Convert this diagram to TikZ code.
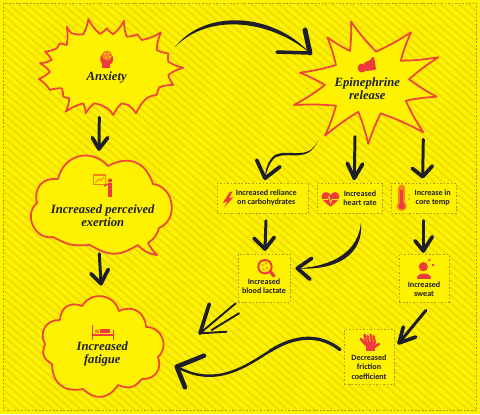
\documentclass[tikz,border=0pt]{standalone}
\usepackage{fontspec}
\setsansfont{Carlito}
\setmainfont{Liberation Serif}
\definecolor{bgyellow}{HTML}{FFF200}
\definecolor{stripe}{HTML}{EEDF00}
\definecolor{outline}{HTML}{F0453A}
\definecolor{iconred}{HTML}{EE3B3B}
\definecolor{iconorange}{HTML}{F58220}
\definecolor{inkdark}{HTML}{1E1E28}
\definecolor{dotline}{HTML}{A89E10}
\tikzset{
  bubble/.style={draw=outline, line width=1pt, fill=bgyellow, line join=round},
  spk/.style={bend right=#1},
  spk/.default=10,
  lobe/.style={bend left=#1, looseness=1.25},
  lobe/.default=60,
  infobox/.style={draw=dotline, fill=bgyellow, line width=0.5pt, dash pattern=on 0.9pt off 1.1pt, inner sep=0pt},
  bigtext/.style={font=\fontsize{7.2}{7.5}\selectfont\bfseries\itshape, text=inkdark, align=center, inner sep=0pt},
  boxtext/.style={font=\sffamily\fontsize{4.6}{5.3}\selectfont\bfseries, text=inkdark, align=center, inner sep=0pt},
  shaft/.style={draw=inkdark, line width=#1, line cap=round, line join=round},
  shaft/.default=1.7pt,
  barb/.style={draw=inkdark, line width=2.1pt, line cap=round, line join=round}
}
\begin{document}
\begin{tikzpicture}[x=0.02cm, y=-0.02cm]
  \useasboundingbox (0,0) rectangle (480,414);
  \fill[bgyellow] (0,0) rectangle (480,414);

  % Background stripes
  \begin{scope}
    \clip (3,3) rectangle (476.5,410);
    \foreach \s in {-500,-491,...,480} {
      \draw[stripe, line width=1.1pt] (\s,0) -- (\s+487,414);
    }
  \end{scope}
  \draw[dotline, line width=0.4pt, dash pattern=on 1pt off 1pt] (3,3) rectangle (476.5,410);

  % Anxiety star
  \draw[bubble] (88.3,19) \foreach \x/\y in {100/34,106.7/28.3,113.3/34.3,124/20.7,126.7/36.7,137.3/34.3,141.7/40,161/32.3,156.7/50,168.3/53.3,168.3/61.7,183.3/67.7,168.3/75,173.3/85,159.3/87.3,156.7/95,146.7/98,136/113.3,128.3/105,121.7/103.3,113.3/115,107.3/108.3,94.3/103.3,85.7/113.3,83.3/103.3,65.7/111.7,69.3/98.3,63.3/96.7,61.7/88.3,50/90,39/79,50/71.7,40/63.3,51.7/60,45/51.7,56.7/48.3,60/43.3,66.7/45,66.7/26.7,71.7/33.3,83.3/34.3,88.3/19} { to[spk] (\x,\y) } -- cycle;
  \node[bigtext] (anxiety) at (106.7,77.7) {Anxiety};

  % Epinephrine star
  \draw[bubble] (351,21.7) \foreach \x/\y in {376/51.7,411/32.3,400.7/60.7,438.3/57.3,409/79.3,436.7/96.7,405.7/100.7,423.3/132.3,380.7/113.3,368.3/144,358.3/111.7,325/135.7,336/105.7,294/105,325/85,300/72.7,336/65,327.3/37.3,350/51,351/21.7} { to[spk=4] (\x,\y) } -- cycle;
  \node[bigtext] (epinephrine) at (367.3,89) {Epinephrine\\release};

  % Exertion cloud
  \draw[bubble] (58,179) to[lobe=62] (108,166) to[lobe=50] (153,184) to[lobe=75] (159,228)
    to[bend left=20] (148,243) to[bend right=8] (157,255) to[bend left=20] (138,245)
    to[lobe=30] (90,245) to[lobe=15] (53,237) to[lobe=75] (37,203) to[lobe=55] (58,179) -- cycle;
  \node[bigtext] (exertion) at (102.7,215.3) {Increased perceived\\exertion};

  % Fatigue cloud
  \draw[bubble] (82,306) to[lobe=65] (119,311) to[lobe=55] (146,327) to[lobe=70] (158,357)
    to[lobe=55] (142,379) to[lobe=35] (118,385) to[lobe=50] (83,389) to[lobe=50] (52,364)
    to[lobe=40] (45,344) to[lobe=60] (60,320) to[lobe=55] (82,306) -- cycle;
  \node[bigtext] (fatigue) at (102.3,354) {Increased\\fatigue};

  % Dotted boxes
  \node[infobox, minimum width=1.82cm, minimum height=0.6cm] (reliance) at (262.8,198.3) {};
  \node[infobox, minimum width=1.3cm, minimum height=0.6cm] (heart) at (349.8,198.3) {};
  \node[infobox, minimum width=1.29cm, minimum height=0.6cm] (core) at (423.9,198.3) {};
  \node[infobox, minimum width=1.03cm, minimum height=0.96cm] (lactate) at (264.2,278.3) {};
  \node[infobox, minimum width=1cm, minimum height=0.95cm] (sweat) at (424,278.2) {};
  \node[infobox, minimum width=0.99cm, minimum height=1.1cm] (friction) at (369.2,356.8) {};

  \node[boxtext] (relianceText) at (266.3,198) {Increased reliance\\on carbohydrates};
  \node[boxtext] (heartText) at (360,198) {Increased\\heart rate};
  \node[boxtext] (coreText) at (432.7,198) {Increase in\\core temp};
  \node[boxtext] (lactateText) at (264,286) {Increased\\blood lactate};
  \node[boxtext] (sweatText) at (424,289) {Increased\\sweat};
  \node[boxtext] (frictionText) at (369,367) {Decreased\\friction\\coefficient};

  % Icons
  % brain head
  \fill[iconred] (106.7,59) circle (6.5);
  \fill[iconred] (102,62) rectangle (110,67.5);
  \fill[iconorange] (107,55.5) circle (5);
  \foreach \d in {(105,54),(108.5,53.5),(110,57),(106,57.5)} {
    \fill[bgyellow] \d circle (0.8);
  }
  % megaphone
  \fill[iconred] (362,68) circle (4.5);
  \fill[iconred] (364,63) -- (372,59) -- (375,70) -- (366,71) -- cycle;
  \fill[iconred] (371,58) -- (374,57) -- (376,69) -- (374,70) -- cycle;
  % trainer and board
  \draw[iconorange, line width=0.7pt] (93.3,175) rectangle (105.7,184.3);
  \draw[iconorange, line width=0.5pt] (95,183) -- (99,179) -- (101,180.5) -- (104,177);
  \fill[iconred] (110,180.5) circle (2.1);
  \fill[iconred] (107.7,183.3) rectangle (111.7,196.5);
  \draw[iconred, line width=0.8pt] (108,184) -- (104,186);
  % lightning
  \fill[iconred] (230,191.7) -- (222.7,203) -- (227.5,201.5) -- (224,207.5) -- (233.5,197) -- (229,198.3) -- (232.5,191.7) -- cycle;
  % heart
  \fill[iconred] (330.5,206.7) .. controls (324,202) and (321.7,199) .. (321.7,196.5) .. controls (321.7,191.5) and (328.5,190.5) .. (330.5,195) .. controls (332.5,190.5) and (339.3,191.5) .. (339.3,196.5) .. controls (339.3,199) and (337,202) .. (330.5,206.7) -- cycle;
  \draw[bgyellow, line width=0.4pt] (322.5,199.5) -- (327.5,199.5) -- (329,196) -- (330.5,203) -- (332,199.5) -- (338.5,199.5);
  % thermometer
  \fill[iconorange] (401.7,206) circle (5);
  \fill[iconorange] (398.2,188) rectangle (405.2,205);
  \fill[iconorange] (401.7,188) circle (3.5);
  \fill[iconred] (401.7,206) circle (3.2);
  \fill[iconred] (400,190) rectangle (403.4,205);
  \fill[iconorange] (409,195) circle (0.8) (409,199) circle (0.8);
  % magnifier
  \draw[iconred, line width=1.1pt] (265,266.7) circle (6.7);
  \draw[iconred, line width=1.8pt, line cap=round] (270.5,272) -- (274,276);
  \fill[iconorange] (262.5,265) circle (1.1) (266,263.5) circle (1.1) (267,268) circle (1.1) (263.5,269.5) circle (1.1);
  % person with sweat
  \fill[iconred] (423.3,266.7) circle (4.6);
  \fill[iconred] (416.7,278) .. controls (416.7,272) and (431,272) .. (431,278) -- cycle;
  \fill[iconred] (416.7,277.5) rectangle (431,278.5);
  \fill[iconred] (429.3,260) circle (1.3) (433,265) circle (1.3);
  % hand
  \fill[iconred] (366,342) rectangle (375,351);
  \foreach \a/\b in {364.5/334.5,367.5/336,370.5/334.5,373.5/336} {
    \draw[iconred, line width=1.3pt, line cap=round] (\a+1.5,343) -- (\a,\b);
  }
  \draw[iconred, line width=1.5pt, line cap=round] (366,345) -- (361,339);
  \draw[iconred, line width=1.5pt, line cap=round] (374,347) -- (379,344);
  % bed
  \draw[iconred, line width=0.9pt] (92.5,324.5) -- (92.5,339.5) (113.5,330) -- (113.5,339.5);
  \draw[iconred, line width=1.4pt] (92.5,335) -- (113.5,335);
  \fill[iconred] (100,328.5) rectangle (110,333);
  \fill[iconorange] (94.5,330) rectangle (98.5,333);

  % Arrows: named free ends
  \coordinate (anxietyOut) at (99.3,117.3);
  \coordinate (exertionIn) at (99,149);
  \coordinate (exertionOut) at (99.3,253.7);
  \coordinate (fatigueTop) at (101,283.7);
  \coordinate (anxietyRight) at (175,47);
  \coordinate (epiIn) at (310,53);
  \coordinate (epiLeft) at (318.3,140);
  \coordinate (relianceIn) at (265,178.3);
  \coordinate (epiHeart) at (355,136.7);
  \coordinate (heartIn) at (354.3,178.3);
  \coordinate (epiCore) at (423.3,139.3);
  \coordinate (coreIn) at (422.7,176.7);
  \coordinate (relianceOut) at (266,220.7);
  \coordinate (lactateIn) at (265,249);
  \coordinate (coreOut) at (423.3,220.7);
  \coordinate (sweatIn) at (423.3,251);
  \coordinate (heartOut) at (361,222.3);
  \coordinate (lactateSide) at (297.3,268.3);
  \coordinate (sweatOut) at (426,310.3);
  \coordinate (frictionIn) at (399,343);
  \coordinate (lactateOut) at (235.7,303.3);
  \coordinate (fatigueSide) at (200,333.3);
  \coordinate (frictionOut) at (340,349.7);
  \coordinate (fatigueLow) at (176.7,366.7);

  % Straight arrows
  \draw[shaft] (anxietyOut) -- (exertionIn);
  \draw[barb] (92.3,137.7) -- (exertionIn) -- (107.7,137.7);
  \draw[shaft] (exertionOut) -- (fatigueTop);
  \draw[barb] (91,273.7) -- (fatigueTop) -- (108.3,269.3);
  \draw[shaft] (epiHeart) -- (heartIn);
  \draw[barb] (347.3,163.3) -- (heartIn) -- (362.7,164);
  \draw[shaft] (epiCore) -- (coreIn);
  \draw[barb] (412.3,168.3) -- (coreIn) -- (432.3,166);
  \draw[shaft] (relianceOut) -- (lactateIn);
  \draw[barb] (254,238.3) -- (lactateIn) -- (274.3,237.3);
  \draw[shaft] (coreOut) -- (sweatIn);
  \draw[barb] (415,240.7) -- (sweatIn) -- (432.3,236.7);
  \draw[shaft] (sweatOut) -- (frictionIn);
  \draw[barb] (403.3,327) -- (frictionIn) -- (415.7,337);

  % Curved arrows, thin at the start
  \fill[inkdark] (anxietyRight) .. controls (205,9) and (272,12) .. (epiIn) .. controls (267,18) and (207,14) .. (anxietyRight) -- cycle;
  \draw[barb, line width=2.8pt] (305,30) -- (epiIn);
  \draw[barb, line width=2pt] (epiIn) -- (277,52);
  \fill[inkdark] (epiLeft) .. controls (308,162) and (290,148) .. (275,155) .. controls (268,160) and (265,170) .. (relianceIn) .. controls (267,170) and (270,161) .. (276,157) .. controls (290,151) and (308,164) .. (epiLeft) -- cycle;
  \draw[barb] (256.7,160) -- (relianceIn) -- (280,166.7);
  \fill[inkdark] (heartOut) .. controls (364,255) and (336,271) .. (lactateSide) .. controls (333,266.5) and (358.5,251.5) .. (heartOut) -- cycle;
  \draw[barb] (311.7,258.3) -- (lactateSide) -- (310,279.3);
  \draw[shaft=1.8pt] (frictionOut) .. controls (320,333.5) and (295,335) .. (270,351);
  \draw[shaft=1.4pt] (270,351) .. controls (245,367) and (215,388) .. (fatigueLow);
  \draw[barb, line width=2.6pt] (204,355.7) -- (fatigueLow) -- (185,387.3);

  % Double line arrow
  \draw[shaft=1.1pt] (lactateOut) -- (fatigueSide);
  \draw[shaft=1.1pt] (239,313.3) -- (211.7,330);
  \draw[barb] (209.3,304) -- (fatigueSide);
  \draw[shaft=1.1pt] (fatigueSide) -- (226.7,331.7);

\end{tikzpicture}
\end{document}
